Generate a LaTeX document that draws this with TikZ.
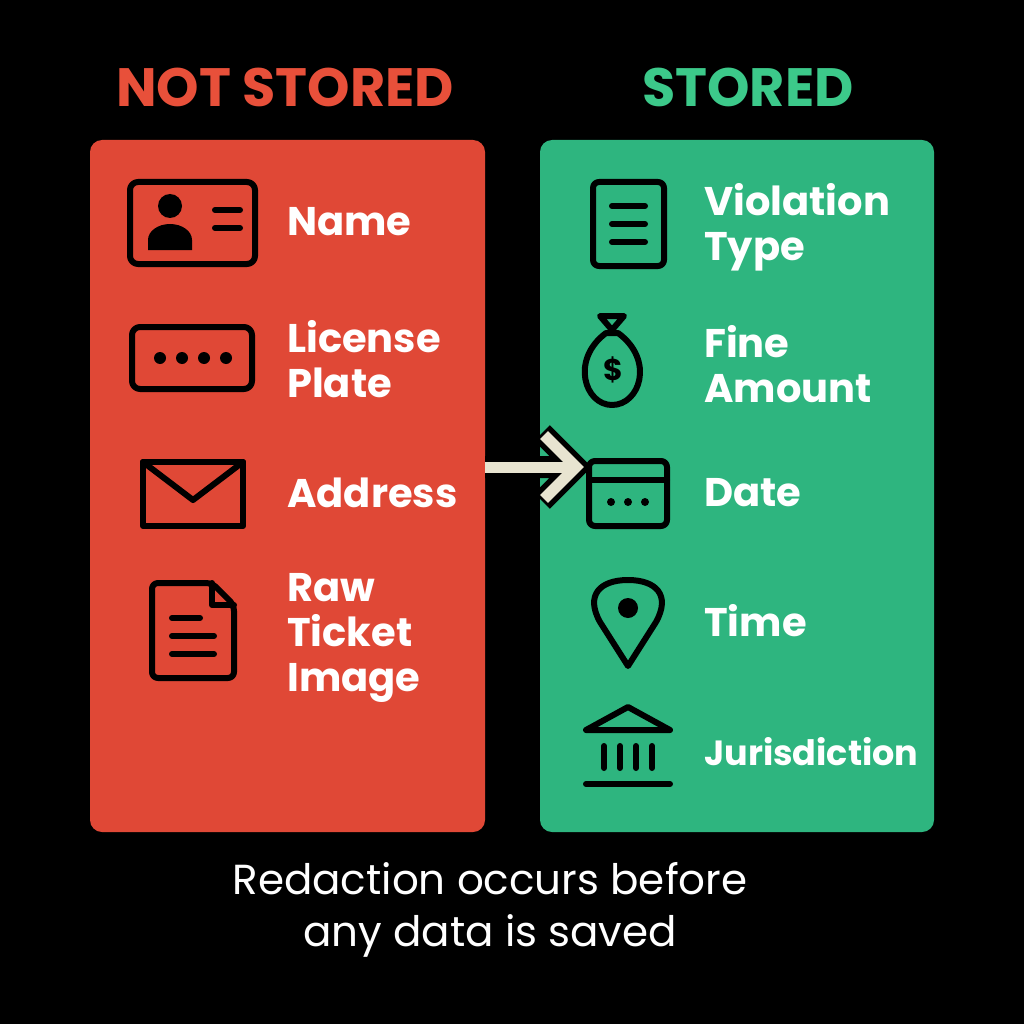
\documentclass[tikz,border=0pt]{standalone}
\usepackage{fontspec}
\setmainfont{Poppins}
\definecolor{redbox}{HTML}{E04836}
\definecolor{greenbox}{HTML}{2EB57F}
\definecolor{redtitle}{HTML}{E8503A}
\definecolor{greentitle}{HTML}{3CC98A}
\definecolor{cream}{HTML}{E8E4D0}
\begin{document}
\begin{tikzpicture}[x=1pt,y=-1pt,
  ic/.style={draw=black,line width=6pt,line join=round,line cap=round},
  lab/.style={text=white,anchor=west,align=left,font=\fontsize{40}{45}\selectfont\bfseries,inner sep=0pt},
  ttl/.style={font=\fontsize{54}{58}\selectfont\bfseries}]
\fill[black] (0,0) rectangle (1024,1024);
\useasboundingbox (0,0) rectangle (1024,1024);
\node[ttl,text=redtitle] (t1) at (285,87) {NOT STORED};
\node[ttl,text=greentitle] (t2) at (748,87) {STORED};
\fill[redbox,rounded corners=12pt] (90,140) rectangle (485,832);
\fill[greenbox,rounded corners=12pt] (540,140) rectangle (934,832);
% arrow
\coordinate (a1) at (485,467);
\coordinate (a2) at (576,467);
\draw[black,line width=22pt] (a1) -- (a2) (542,433) -- (a2) -- (542,501);
\draw[cream,line width=11pt,line join=miter] (a1) -- (572,467);
\draw[cream,line width=11pt,line join=miter] (544,435) -- (576,467) -- (544,499);
% left icons
\draw[ic,rounded corners=8pt] (130,182) rectangle (255,264);
\fill[black] (170,206) circle (12);
\fill[black] (148,250) -- (148,240) arc[start angle=180,end angle=360,x radius=22,y radius=16] -- (192,250) -- cycle;
\draw[ic] (215,210) -- (240,210) (215,228) -- (240,228);
\node[lab] (n1) at (287,222) {Name};
\draw[ic,rounded corners=8pt] (132,327) rectangle (252,389);
\foreach \x in {160,182,204,226} \fill[black] (\x,358) circle (6);
\node[lab] (n2) at (287,359) {License\\Plate};
\draw[ic] (143,462) rectangle (243,526);
\draw[ic] (143,462) -- (193,500) -- (243,462);
\node[lab] (n3) at (287,493) {Address};
\draw[ic,rounded corners=6pt] (212,583) -- (152,583) -- (152,678) -- (234,678) -- (234,605) -- cycle;
\draw[ic] (212,583) -- (212,605) -- (234,605);
\draw[ic] (172,618) -- (200,618) (172,636) -- (214,636) (172,654) -- (214,654);
\node[lab] (n4) at (287,638) {Raw\\Ticket\\Image};
% right icons
\draw[ic,rounded corners=6pt] (593,182) rectangle (664,266);
\draw[ic] (612,206) -- (645,206) (612,224) -- (645,224) (612,242) -- (645,242);
\node[lab] (m1) at (704,227) {Violation\\Type};
\draw[ic] (600,316) -- (612,330) -- (624,316) -- cycle;
\draw[ic] (606,333) .. controls (570,360) and (585,405) .. (612,405) .. controls (640,405) and (655,360) .. (618,333) -- cycle;
\node[font=\fontsize{30}{30}\selectfont\bfseries] (dl) at (613,370) {\$};
\node[lab] (m2) at (704,364) {Fine\\Amount};
\draw[ic,rounded corners=6pt] (589,461) rectangle (667,526);
\draw[ic] (589,480) -- (667,480);
\foreach \x in {611,628,645} \fill[black] (\x,502) circle (4);
\node[lab] (m3) at (704,493) {Date};
\draw[ic] (628,666) -- (600,622) .. controls (585,595) and (600,580) .. (628,580) .. controls (656,580) and (671,595) .. (656,622) -- cycle;
\fill[black] (628,608) circle (10);
\node[lab] (m4) at (704,621) {Time};
\draw[ic] (586,730) -- (628,707) -- (670,730) -- cycle;
\draw[ic] (604,746) -- (604,768) (620,746) -- (620,768) (636,746) -- (636,768) (652,746) -- (652,768);
\draw[ic] (586,784) -- (670,784);
\node[lab,font=\fontsize{35}{40}\selectfont\bfseries] (m5) at (704,752) {Jurisdiction};
% bottom
\node[text=white,align=center,font=\fontsize{42}{52}\selectfont] (b) at (490,910) {Redaction occurs before\\any data is saved};
\end{tikzpicture}
\end{document}
